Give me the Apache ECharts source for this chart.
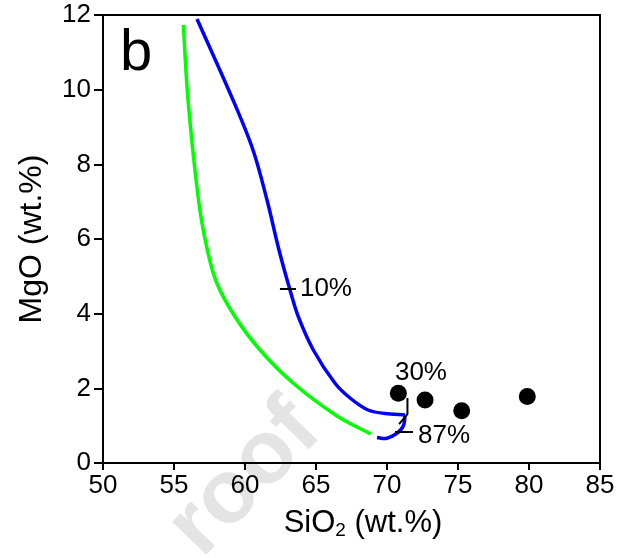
<!DOCTYPE html>
<html>
<head>
<meta charset="utf-8">
<script src="https://cdn.jsdelivr.net/npm/echarts@6/dist/echarts.min.js"></script>
<style>html,body{margin:0;padding:0;background:#fff}#c{width:630px;height:558px}</style>
</head>
<body>
<div id="c"></div>
<script>
var xTicks = [50, 55, 60, 65, 70, 75, 80, 85];
var yTicks = [0, 2, 4, 6, 8, 10, 12];
var blueCurve = [[56.62,11.894],[59.155,9.724],[60.563,8.385],[61.55,7.045],[62.394,5.706],[63.169,4.634],[63.754,3.919],[64.81,3.027],[66.338,2.135],[67.394,1.741],[68.662,1.42],[69.859,1.326],[71.268,1.286]];
var blueHook = [[71.268,1.286],[71.197,1.045],[70.986,0.897],[70.563,0.763],[69.93,0.656],[69.296,0.683]];
var greenCurve = [[55.655,11.733],[55.986,9.724],[56.725,7.045],[57.345,5.706],[58.007,4.822],[59.296,3.919],[61.056,3.027],[63.401,2.135],[66.479,1.259],[68.852,0.777]];
var samples = [[70.80,1.87],[72.68,1.69],[75.26,1.40],[79.88,1.78]];
var tick10 = [[62.46,4.66],[63.59,4.66]];
var tick30 = [[71.44,1.74],[71.44,1.31],[70.85,1.04]];
var tick87 = [[70.56,0.83],[71.83,0.83]];
var labelText = ['10%', '30%', '87%'];
var labelAt = [[63.87,4.66],[70.56,2.41],[72.18,0.72]];

var chart = echarts.init(document.getElementById('c'), null, {renderer:'canvas'});
var font = 'Liberation Sans, Arial, sans-serif';

function smoothPath(p){
  var n = p.length, d = [], m = [], i;
  for (i = 0; i < n - 1; i++) d[i] = Math.hypot(p[i+1][0]-p[i][0], p[i+1][1]-p[i][1]) || 1e-6;
  for (i = 0; i < n; i++){
    var a = p[Math.max(i-1,0)], b = p[Math.min(i+1,n-1)];
    var len = (i > 0 ? d[i-1] : 0) + (i < n-1 ? d[i] : 0);
    m[i] = [(b[0]-a[0])/len, (b[1]-a[1])/len];
  }
  var s = 'M' + p[0][0] + ' ' + p[0][1];
  for (i = 0; i < n - 1; i++){
    var c1 = [p[i][0] + m[i][0]*d[i]/3, p[i][1] + m[i][1]*d[i]/3];
    var c2 = [p[i+1][0] - m[i+1][0]*d[i]/3, p[i+1][1] - m[i+1][1]*d[i]/3];
    s += 'C' + c1[0] + ' ' + c1[1] + ' ' + c2[0] + ' ' + c2[1] + ' ' + p[i+1][0] + ' ' + p[i+1][1];
  }
  return s;
}
function curveSeries(curve, color){
  return {type:'custom', coordinateSystem:'cartesian2d', data:[curve[0]], z:3, silent:true,
    encode:{x:0, y:1},
    renderItem:function(params, api){
      var pts = curve.map(function(q){ return api.coord(q); });
      return {type:'path', shape:{pathData:smoothPath(pts)},
        style:{fill:'none', stroke:color, lineWidth:3.5}};
    }};
}
function blackLine(d){
  return {type:'line', data:d, symbol:'none', lineStyle:{color:'#000', width:2}, z:4, silent:true};
}
chart.setOption({
  animation:false,
  graphic:[
    {type:'text', left:152, top:385, rotation:0.8, z:-10, style:{text:'roof', fill:'#e4e4e4', font:'bold 90px ' + font}},
    {type:'text', left:120, top:25, style:{text:'b', fill:'#000', font:'58px ' + font}}
  ],
  grid:{left:103, right:30, top:15, bottom:95, show:true, borderColor:'#000', borderWidth:2},
  xAxis:{type:'value', min:xTicks[0], max:xTicks[xTicks.length-1], interval:5,
    splitLine:{show:false},
    axisLine:{lineStyle:{color:'#000', width:2}},
    axisTick:{length:7, lineStyle:{color:'#000', width:2}},
    axisLabel:{color:'#000', fontSize:26, fontFamily:font, margin:10},
    name:'SiO{sub|2} (wt.%)', nameLocation:'middle', nameGap:44,
    nameTextStyle:{color:'#000', fontSize:31, fontFamily:font, padding:[0,0,0,23],
      rich:{sub:{fontSize:19, fontFamily:font, color:'#000', verticalAlign:'bottom', padding:[14,0,0,0]}}}
  },
  yAxis:{type:'value', min:yTicks[0], max:yTicks[yTicks.length-1], interval:2,
    splitLine:{show:false},
    axisLine:{lineStyle:{color:'#000', width:2}},
    axisTick:{length:9, lineStyle:{color:'#000', width:2}},
    axisLabel:{color:'#000', fontSize:26, fontFamily:font, margin:12},
    name:'MgO (wt.%)', nameLocation:'middle', nameGap:55,
    nameTextStyle:{color:'#000', fontSize:32, fontFamily:font}
  },
  series:[
    curveSeries(greenCurve, '#00ff00'),
    curveSeries(blueCurve, '#0000ff'),
    curveSeries(blueHook, '#0000ff'),
    blackLine(tick10), blackLine(tick30), blackLine(tick87),
    {type:'scatter', data:samples, symbol:'circle', symbolSize:17, itemStyle:{color:'#000', opacity:1}, z:5},
    {type:'scatter', symbolSize:1, itemStyle:{color:'rgba(0,0,0,0)', opacity:1}, z:6,
      data:labelAt.map(function(p,i){return {value:p, name:labelText[i]};}),
      label:{show:true, position:'inside', align:'left', verticalAlign:'middle', formatter:'{b}', color:'#000', opacity:1, fontSize:26, fontFamily:font}}
  ]
});
</script>
</body>
</html>
